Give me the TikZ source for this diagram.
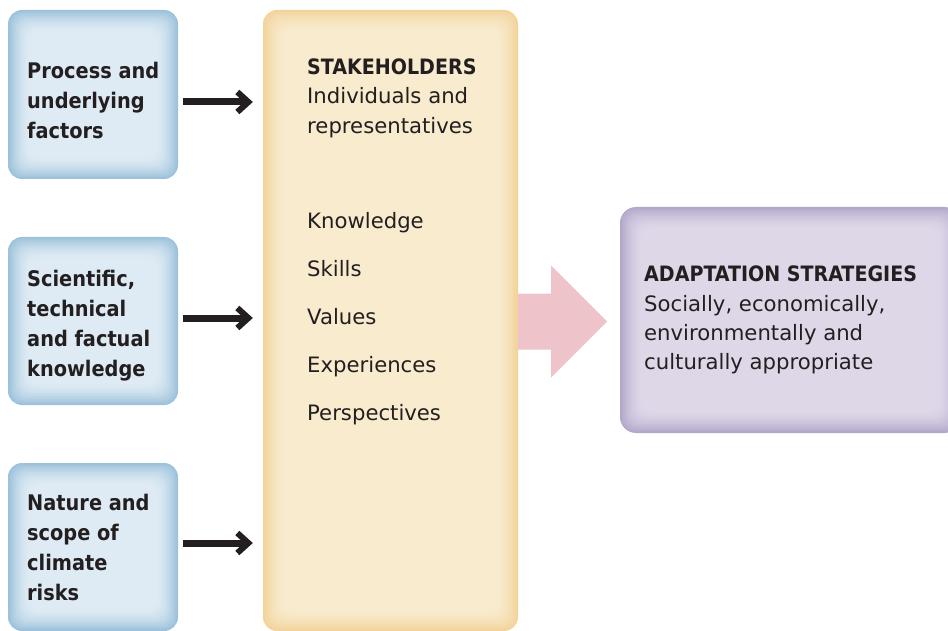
\documentclass[tikz,border=0pt]{standalone}
\usepackage{fontspec}
\setmainfont{DejaVu Sans}[BoldFont={DejaVu Sans Condensed Bold}]
\usepackage{xcolor}
\usepackage{tikz}
\usetikzlibrary{arrows.meta, positioning, calc}
\definecolor{InkDark}{HTML}{231F20}
\definecolor{BlueEdge}{HTML}{9CC1DB}
\definecolor{BlueCore}{HTML}{DEEBF4}
\definecolor{SandEdge}{HTML}{F2D39A}
\definecolor{SandCore}{HTML}{F8EBCE}
\definecolor{LilacEdge}{HTML}{B2A7CB}
\definecolor{LilacCore}{HTML}{DDD7E8}
\definecolor{RoseArrow}{HTML}{EEC3CA}
\tikzset{
  glow/.style 2 args={fill=#1, path picture={
      \foreach \k in {1,...,14}{
        \pgfmathtruncatemacro\mixpct{100*(1-(1-\k/14)^1.6)}
        \fill[#2!\mixpct!#1, rounded corners=12pt]
          ([shift={(\k*1.5pt,\k*1.5pt)}]path picture bounding box.south west) rectangle
          ([shift={(-\k*1.5pt,-\k*1.5pt)}]path picture bounding box.north east);
      }}},
  factorbox/.style={rectangle, rounded corners=14pt, glow={BlueEdge}{BlueCore}, minimum width=170pt, minimum height=168pt, inner sep=0pt},
  stakebox/.style={rectangle, rounded corners=14pt, glow={SandEdge}{SandCore}, minimum width=255pt, minimum height=621pt, inner sep=0pt},
  goalbox/.style={rectangle, rounded corners=16pt, glow={LilacEdge}{LilacCore}, minimum width=340pt, minimum height=226pt, inner sep=0pt},
  boxtext/.style={anchor=north west, inner sep=0pt, align=left, text=InkDark, font=\fontsize{21.5}{30}\selectfont\bfseries},
  listtext/.style={anchor=north west, inner sep=0pt, align=left, text=InkDark, font=\fontsize{21.2}{29.3}\selectfont},
  feedarrow/.style={-{Straight Barb[length=11pt,width=20pt,line width=6pt]}, line width=7pt, InkDark, shorten >=10pt},
  flowarrow/.style={fill=RoseArrow}
}
\begin{document}
\begin{tikzpicture}[x=1pt, y=-1pt]
  \useasboundingbox (0,0) rectangle (948,631);
  \clip (0,0) rectangle (948,631);

  % input factors
  \node[factorbox, minimum height=169pt] (process) at (93,94.5) {};
  \node[factorbox] (science) at (93,321) {};
  \node[factorbox] (risks) at (93,547) {};
  \node[boxtext] (processtxt) at (27,62) {Process and\\underlying\\factors};
  \node[boxtext] (sciencetxt) at (27,270) {Scientific,\\technical\\and factual\\knowledge};
  \node[boxtext] (riskstxt) at (27,494) {Nature and\\scope of\\climate\\risks};

  % stakeholders
  \node[stakebox] (stake) at (390.5,320.5) {};
  \node[listtext] (staketxt) at (307,58.5) {\textbf{STAKEHOLDERS}\\Individuals and\\representatives\\[66pt]
    Knowledge\\[18.7pt]Skills\\[18.7pt]Values\\[18.7pt]Experiences\\[18.7pt]Perspectives};

  % outcome
  \node[goalbox] (adapt) at (790,320) {};
  \node[listtext] (adapttxt) at (644,266) {\textbf{ADAPTATION STRATEGIES}\\Socially, economically,\\environmentally and\\culturally appropriate};

  % connectors
  \draw[feedarrow] ([xshift=5pt,yshift=-7.5pt]process.east) -- ([yshift=-7.5pt]process.east -| stake.west);
  \draw[feedarrow] ([xshift=5pt,yshift=3pt]science.east) -- ([yshift=3pt]science.east -| stake.west);
  \draw[feedarrow] ([xshift=5pt,yshift=4pt]risks.east) -- ([yshift=4pt]risks.east -| stake.west);

  \coordinate (tail) at (stake.east |- 0,321.5);
  \fill[flowarrow] (tail) ++(0,-28) -- ++(33,0) -- ++(0,-28) -- ++(56,56) -- ++(-56,56) -- ++(0,-28) -- ++(-33,0) -- cycle;
\end{tikzpicture}
\end{document}
